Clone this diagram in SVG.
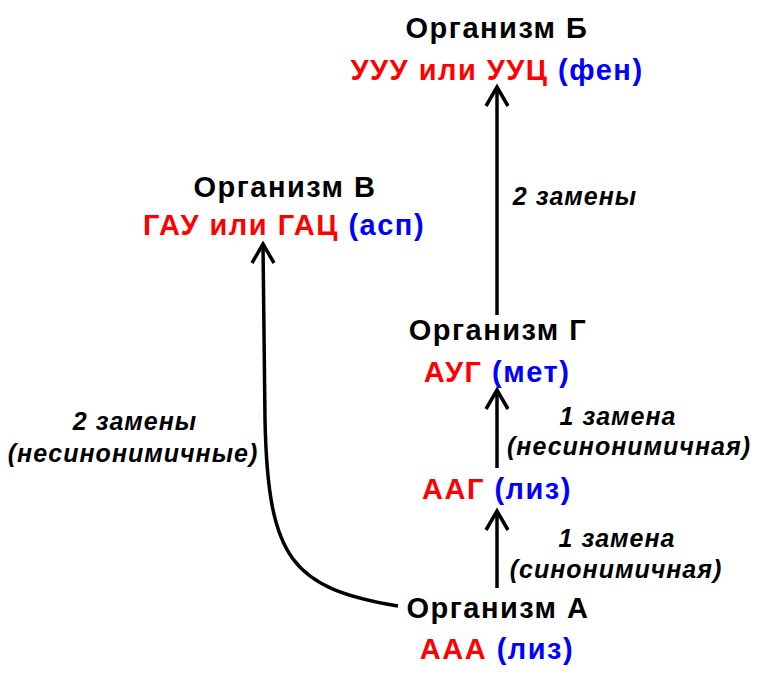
<svg xmlns="http://www.w3.org/2000/svg" width="769" height="678" viewBox="0 0 769 678">
<style>
.t{font-family:"Liberation Sans",Arial,sans-serif;font-weight:bold;font-size:29px;letter-spacing:1.5px;text-anchor:middle;fill:#000}
.r{fill:#ff0000}
.b{fill:#0000ff}
.l{font-family:"Liberation Sans",Arial,sans-serif;font-weight:bold;font-style:italic;font-size:25px;letter-spacing:1px;text-anchor:middle;fill:#000}
.c{fill:none;stroke:#000;stroke-width:3.5}
</style>
<rect width="769" height="678" fill="#fff"/>
<g id="connectors">
<path class="c" d="M497,315 L497,87"/>
<path class="c" d="M497,468 L497,390"/>
<path class="c" d="M497,588 L497,511"/>
<path class="c" d="M398,606 C292,588 268,560 265,420 L263,245"/>
<g fill="none" stroke="#000" stroke-width="3.5">
<path d="M486,106 L497,87 L508,106"/>
<path d="M486,409 L497,390 L508,409"/>
<path d="M486,530 L497,511 L508,530"/>
<path d="M252,263 L263,244 L274,263"/>
</g>
</g>
<g id="orgB">
<text class="t" x="497" y="38">Организм Б</text>
<text class="t" x="497" y="80"><tspan class="r">УУУ или УУЦ</tspan> <tspan class="b">(фен)</tspan></text>
</g>
<g id="orgV">
<text class="t" x="285" y="197">Организм В</text>
<text class="t" x="284" y="235"><tspan class="r">ГАУ или ГАЦ</tspan> <tspan class="b">(асп)</tspan></text>
</g>
<g id="orgG">
<text class="t" x="498" y="340">Организм Г</text>
<text class="t" x="497" y="382"><tspan class="r">АУГ</tspan> <tspan class="b">(мет)</tspan></text>
</g>
<g id="aag">
<text class="t" x="497" y="499"><tspan class="r">ААГ</tspan> <tspan class="b">(лиз)</tspan></text>
</g>
<g id="orgA">
<text class="t" x="498" y="618">Организм А</text>
<text class="t" x="497" y="659"><tspan class="r">ААА</tspan> <tspan class="b">(лиз)</tspan></text>
</g>
<g id="labels">
<text class="l" x="575" y="205">2 замены</text>
<text class="l" x="618" y="425">1 замена</text>
<text class="l" x="629" y="455">(несинонимичная)</text>
<text class="l" x="617" y="547">1 замена</text>
<text class="l" x="616" y="578">(синонимичная)</text>
<text class="l" x="135" y="430">2 замены</text>
<text class="l" x="133" y="462">(несинонимичные)</text>
</g>
</svg>
